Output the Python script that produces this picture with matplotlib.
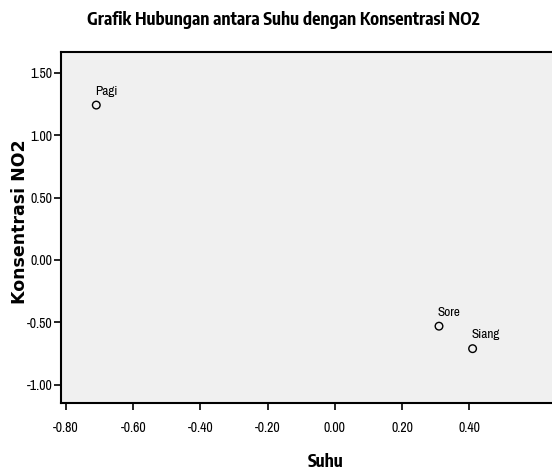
import matplotlib
matplotlib.use('Agg')
import matplotlib.pyplot as plt

labels = ['Pagi', 'Sore', 'Siang']
suhu = [-0.71, 0.31, 0.41]
no2 = [1.24, -0.53, -0.71]
xticks = [-0.80, -0.60, -0.40, -0.20, 0.00, 0.20, 0.40]
yticks = [-1.00, -0.50, 0.00, 0.50, 1.00, 1.50]

narrow = dict(family=['Archivo Narrow', 'DejaVu Sans'])
narrow_bold = dict(family=['Encode Sans Condensed', 'DejaVu Sans'], fontweight='bold')

fig = plt.figure(figsize=(5.52, 4.72), dpi=100)
# axes runs past the right edge of the image, like the original
ax = fig.add_axes([61 / 552, 69 / 472, 530 / 552, 351 / 472])
ax.set_facecolor('#f0f0f0')

ax.scatter(suhu, no2, s=30, facecolors='none', edgecolors='black', linewidths=1.0, zorder=3)
for lab, x, y in zip(labels, suhu, no2):
    ax.annotate(lab, (x, y), xytext=(-1, 6), textcoords='offset points',
                fontsize=9.5, ha='left', va='bottom', **narrow)

ax.set_xlim(-0.815, -0.815 + 530 / 336)
ax.set_ylim(-1.145, 1.665)
ax.set_xticks(xticks)
ax.set_yticks(yticks)
ax.set_xticklabels(['%.2f' % v for v in xticks], fontsize=10, **narrow)
ax.set_yticklabels(['%.2f' % v for v in yticks], fontsize=10, **narrow)
ax.tick_params(direction='out', length=5, width=1.2, top=False, right=False)
ax.tick_params(axis='x', pad=8)
ax.tick_params(axis='y', pad=1)
for side in ['left', 'bottom', 'top']:
    ax.spines[side].set_linewidth(1.5)
ax.spines['right'].set_visible(False)

ax.set_xlabel('Suhu', fontsize=12.5, labelpad=13, **narrow_bold)
fig.text(20 / 552, 1 - 222 / 472, 'Konsentrasi NO2', family=['DejaVu Sans'],
         fontsize=12.5, fontweight='bold', rotation=90, ha='center', va='center')
fig.text(283 / 552, 1 - 20 / 472, 'Grafik Hubungan antara Suhu dengan Konsentrasi NO2',
         fontsize=12.5, ha='center', va='center', **narrow_bold)

fig.savefig('out.png', dpi=100, facecolor='white')
